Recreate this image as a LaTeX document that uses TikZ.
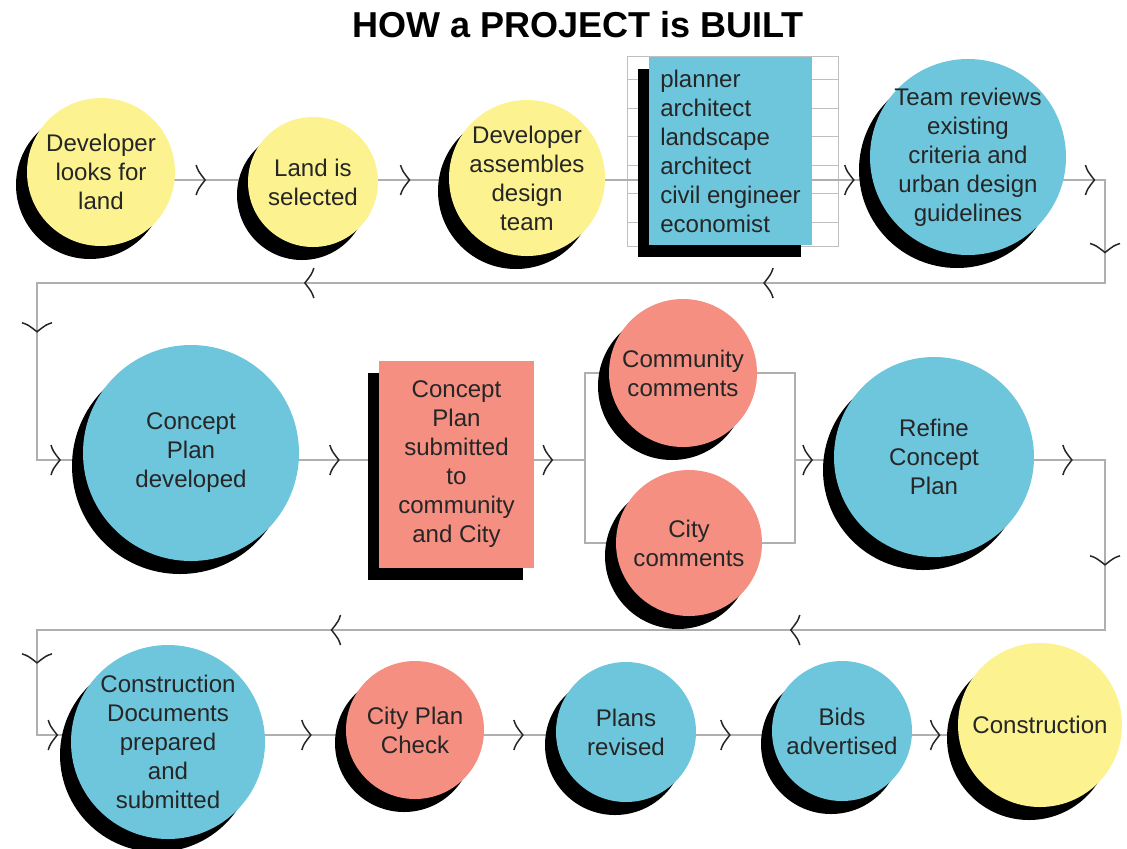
\documentclass[tikz,border=0pt]{standalone}
\usepackage{fontspec}
\setmainfont{Liberation Sans}
\usetikzlibrary{shapes.geometric, shadows, backgrounds, positioning}
\definecolor{PlanYellow}{HTML}{FCF290}
\definecolor{PlanBlue}{HTML}{6EC6DC}
\definecolor{PlanPink}{HTML}{F48F82}
\definecolor{PlanInk}{HTML}{262626}
\definecolor{PlanLine}{HTML}{AFAFAF}

\begin{document}
\begin{tikzpicture}[
            headline/.style={font=\fontsize{20.5}{24}\selectfont\bfseries, text=black},
            stage/.style={circle, inner sep=-6pt, align=center, text=PlanInk, font=\fontsize{13.7}{16.5}\selectfont, general shadow={fill=black, shadow xshift=-0.22cm, shadow yshift=-0.26cm}},
            panel/.style={rectangle, inner sep=0pt, text=PlanInk, font=\fontsize{13.7}{16.5}\selectfont, general shadow={fill=black, shadow xshift=-0.22cm, shadow yshift=-0.24cm}},
            link/.style={draw=PlanLine, line width=0.6pt},
            rowline/.style={draw=PlanLine!80, line width=0.5pt},
            chev/.pic={\draw[PlanInk, line width=0.85pt] (-0.09,0.3) .. controls (-0.05,0.18) .. (0.09,0) .. controls (-0.05,-0.18) .. (-0.09,-0.3);}
        ]
            \useasboundingbox (0,0) rectangle (22.54,-16.96);

            \node[headline] (title) at (11.56,-0.5) {HOW a PROJECT is BUILT};

            \node[stage, fill=PlanYellow, minimum size=2.96cm] (look) at (2.02,-3.44) {Developer\\looks for\\land};
            \node[stage, fill=PlanYellow, minimum size=2.6cm] (land) at (6.26,-3.64) {Land is\\selected};
            \node[stage, fill=PlanYellow, minimum size=3.12cm] (assemble) at (10.54,-3.56) {Developer\\assembles\\design\\team};
            \node[panel, fill=PlanBlue, minimum width=3.26cm, minimum height=3.76cm, align=left] (team) at (14.61,-3.02) {planner\\architect\\landscape\\architect\\civil engineer\\economist};
            \node[stage, fill=PlanBlue, minimum size=3.92cm] (review) at (19.36,-3.14) {Team reviews\\existing\\criteria and\\urban design\\guidelines};

            \node[stage, fill=PlanBlue, minimum size=4.32cm] (concept) at (3.82,-9.06) {Concept\\Plan\\developed};
            \node[panel, fill=PlanPink, minimum width=3.1cm, minimum height=4.14cm, align=center] (submit) at (9.13,-9.29) {Concept\\Plan\\submitted\\to\\community\\and City};
            \node[stage, fill=PlanPink, minimum size=2.96cm] (community) at (13.66,-7.46) {Community\\comments};
            \node[stage, fill=PlanPink, minimum size=2.92cm] (citycom) at (13.78,-10.86) {City\\comments};
            \node[stage, fill=PlanBlue, minimum size=4cm] (refine) at (18.68,-9.14) {Refine\\Concept\\Plan};

            \node[stage, fill=PlanBlue, minimum size=3.88cm] (docs) at (3.36,-14.84) {Construction\\Documents\\prepared\\and\\submitted};
            \node[stage, fill=PlanPink, minimum size=2.76cm] (check) at (8.3,-14.6) {City Plan\\Check};
            \node[stage, fill=PlanBlue, minimum size=2.8cm] (revise) at (12.52,-14.64) {Plans\\revised};
            \node[stage, fill=PlanBlue, minimum size=2.8cm] (bids) at (16.84,-14.62) {Bids\\advertised};
            \node[stage, fill=PlanYellow, minimum size=3.28cm] (build) at (20.8,-14.5) {Construction};

            \coordinate (row1) at (0,-3.6);
            \coordinate (row2) at (0,-9.2);
            \coordinate (row3) at (0,-14.7);
            \coordinate (ret1) at (0,-5.66);
            \coordinate (ret2) at (0,-12.6);
            \coordinate (eastrail) at (22.1,0);
            \coordinate (westrail) at (0.74,0);
            \coordinate (split) at (11.7,-9.2);
            \coordinate (merge) at (15.9,-9.2);

            \begin{pgfonlayer}{background}
            \draw[rowline] ([xshift=-0.42cm]team.north west) rectangle ([xshift=0.52cm, yshift=-0.02cm]team.south east);
            \foreach \k [evaluate=\k as \ry using -0.46-0.57*\k] in {0,...,5}
                \draw[rowline] ([xshift=-0.42cm, yshift=\ry cm]team.north west) -- ([xshift=0.52cm, yshift=\ry cm]team.north east);

            \draw[link] (look |- row1) -- pic[pos=.47]{chev} (land |- row1);
            \draw[link] (land |- row1) -- pic[pos=.43]{chev} (assemble |- row1);
            \draw[link] (assemble |- row1) -- (team |- row1);
            \draw[link] (team |- row1) -- pic[pos=.5]{chev} (review |- row1);
            \draw[link] (review |- row1) -- pic[pos=.89]{chev} (eastrail |- row1)
                -- pic[pos=.66, rotate=-90]{chev} (eastrail |- ret1)
                -- pic[pos=.315, rotate=180]{chev} pic[pos=.745, rotate=180]{chev} (westrail |- ret1)
                -- pic[pos=.25, rotate=-90]{chev} (westrail |- row2)
                -- pic[pos=.12]{chev} (concept |- row2);

            \draw[link] (concept |- row2) -- pic[pos=.54]{chev} (submit |- row2);
            \draw[link] (submit |- row2) -- pic[pos=.71]{chev} (split);
            \draw[link] (split) |- (community);
            \draw[link] (split) |- (citycom);
            \draw[link] (community) -| (merge);
            \draw[link] (citycom) -| (merge);
            \draw[link] (merge) -- pic[pos=.09]{chev} (refine |- row2);
            \draw[link] (refine |- row2) -- pic[pos=.78]{chev} (eastrail |- row2)
                -- pic[pos=.59, rotate=-90]{chev} (eastrail |- ret2)
                -- pic[pos=.29, rotate=180]{chev} pic[pos=.72, rotate=180]{chev} (westrail |- ret2)
                -- pic[pos=.27, rotate=-90]{chev} (westrail |- row3)
                -- pic[pos=.12]{chev} (docs |- row3);

            \draw[link] (docs |- row3) -- pic[pos=.56]{chev} (check |- row3);
            \draw[link] (check |- row3) -- pic[pos=.49]{chev} (revise |- row3);
            \draw[link] (revise |- row3) -- pic[pos=.46]{chev} (bids |- row3);
            \draw[link] (bids |- row3) -- pic[pos=.47]{chev} (build |- row3);
            \end{pgfonlayer}
        \end{tikzpicture}
\end{document}
